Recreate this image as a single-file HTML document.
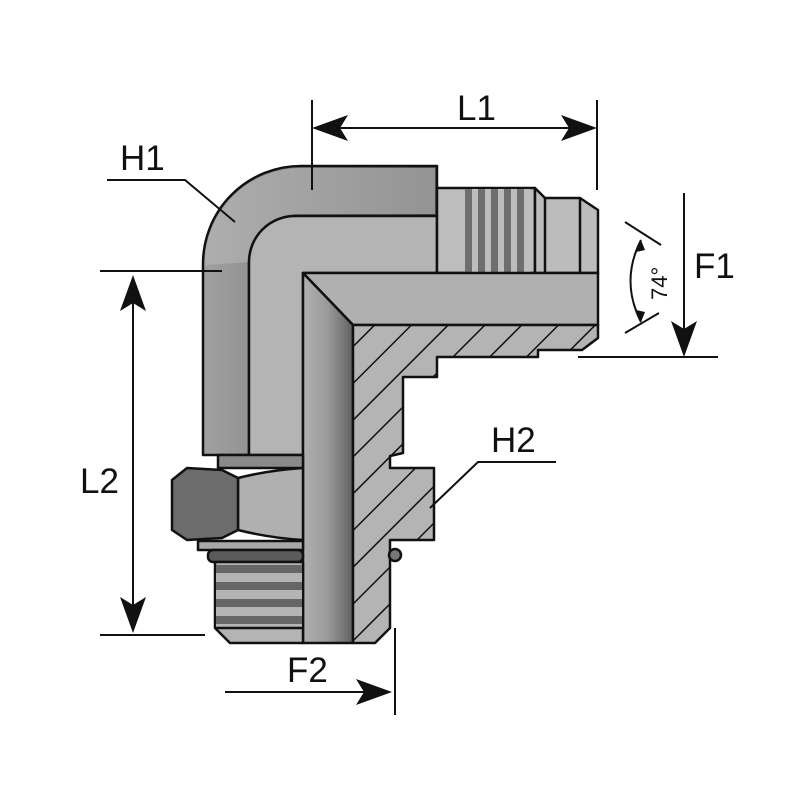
<!DOCTYPE html>
<html><head><meta charset="utf-8"><style>html,body{margin:0;padding:0;background:#fff}svg{display:block}</style></head>
<body>
<svg width="800" height="800" viewBox="0 0 800 800" xmlns="http://www.w3.org/2000/svg">
<defs>
<linearGradient id="gb" x1="0" x2="1"><stop offset="0" stop-color="#b0b0b0"/><stop offset="0.5" stop-color="#9a9a9a"/><stop offset="1" stop-color="#606060"/></linearGradient>
<linearGradient id="gl" x1="0" x2="1"><stop offset="0" stop-color="#a0a0a0"/><stop offset="1" stop-color="#5e5e5e"/></linearGradient>
<pattern id="th" x="465" width="13" height="8" patternUnits="userSpaceOnUse"><rect width="13" height="8" fill="#bdbdbd"/><rect x="0" width="7" height="8" fill="#6e6e6e"/></pattern>
<pattern id="thh" y="565" width="10" height="17" patternUnits="userSpaceOnUse"><rect width="10" height="17" fill="#b4b4b4"/><rect y="0" width="10" height="8" fill="#666"/></pattern>
<pattern id="hatch" width="26" height="26" patternUnits="userSpaceOnUse" patternTransform="rotate(45)"><rect width="26" height="26" fill="#b4b4b4"/><line x1="0" y1="0" x2="0" y2="26" stroke="#111" stroke-width="3"/></pattern>
</defs>
<g stroke="#111" stroke-width="2.5" stroke-linejoin="round">
<path d="M203,455 L203,265 A98,98 0 0 1 301,166 L437,166 L437,216 L296,216 A46,46 0 0 0 249,262 L249,455 Z" fill="url(#gl)"/>
<path d="M205,265 A96,96 0 0 1 301,168 L435,168 L435,214 L296,214 A48,48 0 0 0 250,262 Z" fill="#b8b8b8" stroke="none" opacity="0.6"/>
<path d="M249,455 L249,262 A46,46 0 0 1 296,216 L437,216 L437,273 L303,273 L303,455 Z" fill="#b4b4b4"/>
<rect x="437" y="188" width="98" height="85" fill="#bdbdbd"/>
<rect x="465" y="189" width="65" height="83" fill="url(#th)" stroke="none"/>
<path d="M535,188 L545,198 L580,198 L598,210 L598,273 L535,273 Z" fill="#bcbcbc"/>
<line x1="545" y1="198" x2="545" y2="273"/><line x1="580" y1="198" x2="580" y2="273"/>
<path d="M303,273 L598,273 L598,325 L353,325 Z" fill="#b0b0b0"/>
<path d="M303,273 L353,325 L353,643 L303,643 Z" fill="url(#gb)"/>
<path d="M353,325 L598,325 L598,338 L582,350 L538,350 L538,357 L437,357 L437,377 L403,377 L403,453 L390,456 L390,468 L434,468 L434,540 L390,540 L390,628 L375,643 L353,643 Z" fill="url(#hatch)"/>
<rect x="218" y="455" width="85" height="13" fill="#8a8a8a"/>
<path d="M238,478 Q270,470 303,468 L303,540 Q270,538 238,530 Z" fill="#b0b0b0"/>
<path d="M172,480 L187,468 L222,470 L238,478 L238,530 L222,538 L187,540 L172,530 Z" fill="#6c6c6c"/>
<rect x="198" y="541" width="105" height="9" fill="#a8a8a8"/>
<rect x="208" y="550" width="95" height="12" rx="5" fill="#5a5a5a"/>
<path d="M215,562 L303,562 L303,643 L230,643 L215,628 Z" fill="#b4b4b4"/>
<rect x="216" y="565" width="86" height="62" fill="url(#thh)" stroke="none"/>
<line x1="215" y1="628" x2="303" y2="628"/>
<circle cx="395" cy="555" r="6" fill="#777"/>
</g>
<g stroke="#111" stroke-width="2" fill="none">
<line x1="312" y1="100" x2="312" y2="190"/><line x1="597" y1="100" x2="597" y2="190"/>
<line x1="100" y1="271" x2="222" y2="271"/><line x1="100" y1="635" x2="205" y2="635"/>
<line x1="578" y1="357" x2="718" y2="357"/>
<line x1="395" y1="628" x2="395" y2="715"/>
<polyline points="107,180 185,180 235,222"/>
<polyline points="556,462 478,462 430,508"/>
<line x1="625" y1="222" x2="661" y2="245"/><line x1="625" y1="333" x2="659" y2="313"/>
<path d="M641,240 Q620,281 641,322"/>
<line x1="330" y1="128" x2="580" y2="128"/>
<line x1="133" y1="295" x2="133" y2="615"/>
<line x1="684" y1="193" x2="684" y2="335"/>
<line x1="225" y1="692" x2="370" y2="692"/>
</g>
<g fill="#111">
<path d="M312,128 L348,115 L340,128 L348,141 Z"/><path d="M597,128 L561,115 L569,128 L561,141 Z"/>
<path d="M133,275 L120,311 L133,303 L146,311 Z"/><path d="M133,633 L120,597 L133,605 L146,597 Z"/>
<path d="M684,357 L671,321 L684,329 L697,321 Z"/>
<path d="M392,692 L356,679 L364,692 L356,705 Z"/>
<path d="M641,240 L636,252 L645,250 Z"/><path d="M641,322 L636,310 L645,312 Z"/>
</g>
<g font-family="Liberation Sans, sans-serif" font-size="35" fill="#111">
<text x="457" y="120">L1</text>
<text x="120" y="170">H1</text>
<text x="80" y="493">L2</text>
<text x="694" y="278">F1</text>
<text x="491" y="452">H2</text>
<text x="287" y="682">F2</text>
<text x="0" y="0" font-size="22" transform="translate(667,300) rotate(-90)">74°</text>
</g>
</svg>
</body></html>
